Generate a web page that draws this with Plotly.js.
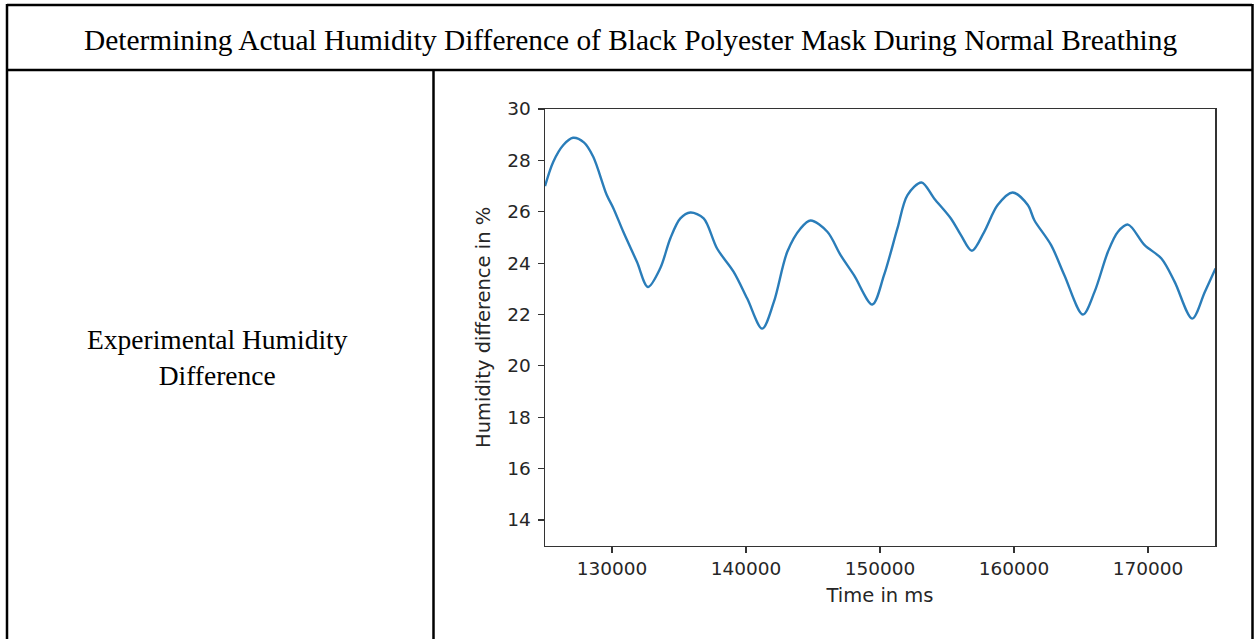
<!DOCTYPE html>
<html>
<head>
<meta charset="utf-8">
<script src="https://cdn.plot.ly/plotly-3.0.1.min.js"></script>
<style>
  html, body { margin: 0; padding: 0; background: #ffffff; }
  #chart { width: 1254px; height: 639px; }
</style>
</head>
<body>
<div id="chart"></div>
<script>
// Humidity difference of a black polyester mask over time (normal breathing)
const timeMs = [
  125000, 125620, 126370, 127090, 127900, 128600, 129610, 130110, 130860, 131860,
  132680, 133600, 134350, 135100, 135850, 136840, 137840, 139080, 140090, 141210,
  142080, 143080, 144070, 144820, 146070, 147060, 148060, 149430, 150300, 151300,
  152050, 153100, 154040, 155290, 156040, 156860, 157780, 158780, 159900, 161030,
  161520, 162770, 163760, 165140, 166010, 167010, 167760, 168510, 169750, 171000,
  171990, 173300, 174240, 175040
];
const humidityDiff = [
  27.0, 27.95, 28.6, 28.88, 28.7, 28.14, 26.65, 26.13, 25.2, 24.05,
  23.07, 23.8, 24.96, 25.74, 25.97, 25.74, 24.57, 23.66, 22.62, 21.45,
  22.49, 24.44, 25.35, 25.66, 25.22, 24.31, 23.53, 22.39, 23.53, 25.35,
  26.65, 27.14, 26.52, 25.74, 25.09, 24.48, 25.22, 26.26, 26.75, 26.26,
  25.67, 24.7, 23.53, 22.0, 22.88, 24.44, 25.22, 25.5, 24.7, 24.18,
  23.27, 21.84, 22.88, 23.79
];
const xTicks = [130000, 140000, 150000, 160000, 170000];
const yTicks = [14, 16, 18, 20, 22, 24, 26, 28, 30];

const tableTitle = 'Determining Actual Humidity Difference of Black Polyester Mask During Normal Breathing';
const rowLabel = 'Experimental Humidity<br>Difference';
const xTitle = 'Time in ms';
const yTitle = 'Humidity difference in %';

const W = 1254, H = 639;
const px = v => v / W;          // pixel -> paper x
const py = v => 1 - v / H;      // pixel -> paper y

const tickFont = { family: 'DejaVu Sans, sans-serif', size: 18.5, color: '#262626' };
const axisTitleFont = { family: 'DejaVu Sans, sans-serif', size: 19.5, color: '#262626' };
const serifTitle = { family: 'Liberation Serif, Times New Roman, serif', size: 29.4, color: '#000000' };
const serifLabel = { family: 'Liberation Serif, Times New Roman, serif', size: 27.5, color: '#000000' };

const trace = {
  x: timeMs,
  y: humidityDiff,
  type: 'scatter',
  mode: 'lines',
  line: { color: '#2a7db9', width: 2.4, shape: 'spline', smoothing: 0.9 },
  hoverinfo: 'skip'
};

const border = (x0, y0, x1, y1, w) => ({
  type: 'line', xref: 'paper', yref: 'paper',
  x0: px(x0), y0: py(y0), x1: px(x1), y1: py(y1),
  line: { color: '#000000', width: w }
});

const layout = {
  width: W, height: H,
  margin: { l: 0, r: 0, t: 0, b: 0 },
  paper_bgcolor: '#ffffff',
  plot_bgcolor: '#ffffff',
  showlegend: false,
  xaxis: {
    domain: [px(545), px(1215)],
    range: [125000, 175000],
    tickvals: xTicks,
    ticktext: xTicks.map(String),
    ticks: 'outside', ticklen: 6, tickwidth: 1.2, tickcolor: '#333333',
    showline: true, linecolor: '#333333', linewidth: 1.5, mirror: true,
    showgrid: false, zeroline: false,
    tickfont: tickFont,
    title: { text: xTitle, font: axisTitleFont, standoff: 10 }
  },
  yaxis: {
    domain: [py(545.7), py(109)],
    range: [13, 30],
    tickvals: yTicks,
    ticktext: yTicks.map(String),
    ticks: 'outside', ticklen: 6, tickwidth: 1.2, tickcolor: '#333333',
    showline: true, linecolor: '#333333', linewidth: 1.5, mirror: true,
    showgrid: false, zeroline: false,
    ticklabelstandoff: 3,
    tickfont: tickFont,
    title: { text: yTitle, font: axisTitleFont, standoff: 11 }
  },
  shapes: [
    border(7, 5, 1252, 5, 2.5),
    border(7, 70, 1252, 70, 2.5),
    border(7, 4, 7, 639, 2.5),
    border(1252.5, 4, 1252.5, 639, 2.5),
    border(433.5, 70, 433.5, 639, 2.5)
  ],
  annotations: [
    {
      text: tableTitle, xref: 'paper', yref: 'paper',
      x: px(630), y: py(40), xanchor: 'center', yanchor: 'middle',
      showarrow: false, font: serifTitle
    },
    {
      text: rowLabel, xref: 'paper', yref: 'paper',
      x: px(217), y: py(357), xanchor: 'center', yanchor: 'middle',
      showarrow: false, font: serifLabel, align: 'center'
    }
  ]
};

Plotly.newPlot('chart', [trace], layout, { displayModeBar: false, staticPlot: true });
</script>
</body>
</html>
